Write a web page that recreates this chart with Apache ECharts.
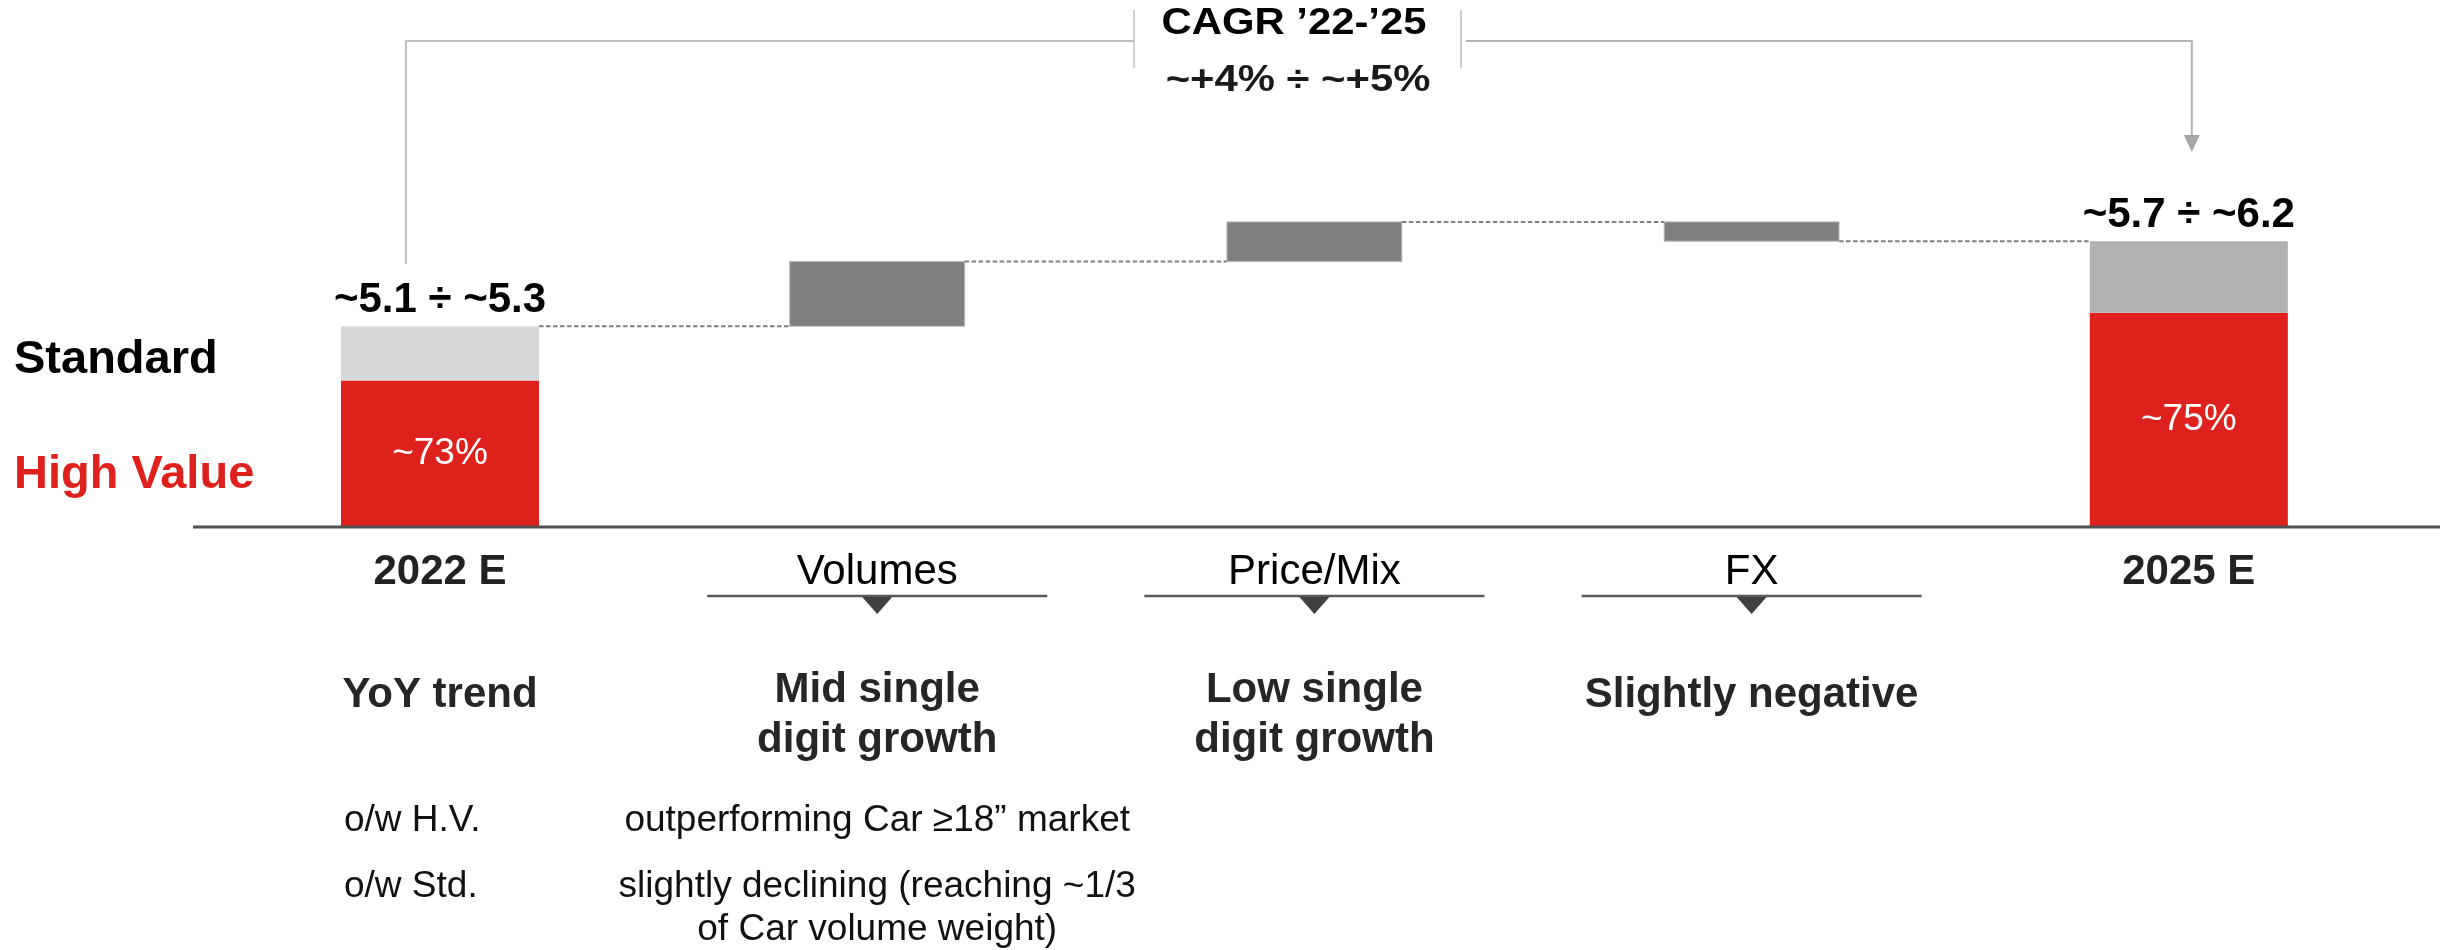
<!DOCTYPE html>
<html>
<head>
<meta charset="utf-8">
<title>Revenue bridge 2022 E – 2025 E</title>
<script src="https://cdn.jsdelivr.net/npm/echarts@6/dist/echarts.min.js"></script>
<style>
  html, body { margin: 0; padding: 0; background: #ffffff; }
  #chart { width: 2450px; height: 950px; }
</style>
</head>
<body>
<div id="chart"></div>
<script>
// ---------------- data ----------------
const categories = ['2022 E', 'Volumes', 'Price/Mix', 'FX', '2025 E'];
const endpointTotals = [5.2, 5.95];                 // midpoints of the stated ranges
const endpointRangeLabels = ['~5.1 ÷ ~5.3', '~5.7 ÷ ~6.2'];
const highValueShare = [0.73, 0.75];                // share of the bar that is High Value
const highValueShareLabels = ['~73%', '~75%'];
const bridgeSteps = [0.57, 0.35, -0.17];            // Volumes, Price/Mix, FX
const cagrTitle = 'CAGR \u201922-\u201925';
const cagrRange = '~+4% ÷ ~+5%';
const seriesNames = ['Standard', 'High Value'];
const yoyTrend = ['YoY trend', 'Mid single\ndigit growth', 'Low single\ndigit growth', 'Slightly negative', ''];
const hvNotes = ['o/w H.V.', 'outperforming Car \u226518\u201d market', '', '', ''];
const stdNotes = ['o/w Std.', 'slightly declining (reaching ~1/3\nof Car volume weight)', '', '', ''];

// ---------------- styling ----------------
const FONT = "'Liberation Sans', Arial, Helvetica, sans-serif";
const RED = '#df211d';
const STD_COLORS = ['#d6d7d9', '#b1b1b1'];
const STEP_COLOR = '#808080';
const Y_FLOOR = 3.43;   // value axis starts here (truncated axis)
const Y_CEIL = 7.9;
const ENDPOINT_FRAC = 0.453;
const STEP_FRAC = 0.40;

const lastIdx = categories.length - 1;
const endpointIdx = [0, lastIdx];
const isEndpoint = i => i === 0 || i === lastIdx;
const widthFrac = i => (isEndpoint(i) ? ENDPOINT_FRAC : STEP_FRAC);

// High Value segment fills its share of the visible bar
const hvTop = endpointTotals.map((t, k) => Y_FLOOR + highValueShare[k] * (t - Y_FLOOR));
const hvData = endpointIdx.map((c, k) => [c, Y_FLOOR, hvTop[k]]);
const stdData = endpointIdx.map((c, k) => [c, hvTop[k], endpointTotals[k]]);

// floating bridge steps and the running level after each bar
let level = endpointTotals[0];
const levels = [level];
const stepData = bridgeSteps.map((d, k) => {
  const lo = Math.min(level, level + d);
  const hi = Math.max(level, level + d);
  level += d;
  levels.push(level);
  return [k + 1, lo, hi];
});
const connectorData = levels.map((v, i) => [i, v]);
const noteData = categories.map((c, i) => [i, Y_FLOOR]);

function rectFor(api, frac) {
  const x = api.value(0);
  const p0 = api.coord([x, api.value(1)]);
  const p1 = api.coord([x, api.value(2)]);
  const w = api.size([1, 0])[0] * frac;
  return { x: p0[0] - w / 2, y: p1[1], width: w, height: p0[1] - p1[1] };
}

const chart = echarts.init(document.getElementById('chart'));

chart.setOption({
  animation: false,
  backgroundColor: '#ffffff',
  grid: { left: 221.4, width: 2186, top: 20, height: 507, containLabel: false, outerBoundsMode: 'none' },
  xAxis: {
    type: 'category',
    data: categories,
    boundaryGap: true,
    axisLine: { show: false },
    axisTick: { show: false },
    axisLabel: {
      interval: 0,
      margin: 24,
      lineHeight: 42,
      formatter: (v, i) => (isEndpoint(i) ? '{b|' + v + '}' : '{n|' + v + '}'),
      rich: {
        b: { fontFamily: FONT, fontSize: 42, fontWeight: 'bold', color: '#222222', lineHeight: 42 },
        n: { fontFamily: FONT, fontSize: 42, fontWeight: 'normal', color: '#000000', lineHeight: 42 }
      }
    }
  },
  yAxis: { type: 'value', min: Y_FLOOR, max: Y_CEIL, show: false, splitLine: { show: false } },
  series: [
    {
      name: seriesNames[1],
      type: 'custom',
      data: hvData,
      encode: { x: 0, y: [1, 2] },
      renderItem: (params, api) => {
        const r = rectFor(api, ENDPOINT_FRAC);
        return {
          type: 'group',
          children: [
            { type: 'rect', shape: r, style: { fill: RED } },
            {
              type: 'text', x: r.x + r.width / 2, y: r.y + r.height / 2,
              style: { text: highValueShareLabels[params.dataIndex], font: '37px ' + FONT,
                       fill: '#ffffff', align: 'center', verticalAlign: 'middle' }
            }
          ]
        };
      }
    },
    {
      name: seriesNames[0],
      type: 'custom',
      data: stdData,
      encode: { x: 0, y: [1, 2] },
      renderItem: (params, api) => {
        const r = rectFor(api, ENDPOINT_FRAC);
        return {
          type: 'group',
          children: [
            { type: 'rect', shape: r, style: { fill: STD_COLORS[params.dataIndex] } },
            {
              type: 'text', x: r.x + r.width / 2, y: r.y - 26,
              style: { text: endpointRangeLabels[params.dataIndex], font: 'bold 42px ' + FONT,
                       fill: '#000000', align: 'center', verticalAlign: 'middle' }
            }
          ]
        };
      }
    },
    {
      name: 'Bridge',
      type: 'custom',
      data: stepData,
      encode: { x: 0, y: [1, 2] },
      renderItem: (params, api) => ({
        type: 'rect',
        shape: rectFor(api, STEP_FRAC),
        style: { fill: STEP_COLOR, stroke: '#b8b8b8', lineWidth: 1 }
      })
    },
    {
      name: 'Connectors',
      type: 'custom',
      data: connectorData.slice(0, lastIdx),
      encode: { x: 0, y: 1 },
      z: 1,
      renderItem: (params, api) => {
        const i = api.value(0);
        const band = api.size([1, 0])[0];
        const a = api.coord([i, api.value(1)]);
        const b = api.coord([i + 1, api.value(1)]);
        return {
          type: 'line',
          shape: { x1: a[0] + band * widthFrac(i) / 2, y1: a[1], x2: b[0] - band * widthFrac(i + 1) / 2, y2: b[1] },
          style: { stroke: '#7f7f7f', lineWidth: 2, lineDash: [4.5, 2.5] }
        };
      }
    },
    {
      name: 'Notes',
      type: 'custom',
      data: noteData,
      encode: { x: 0, y: 1 },
      renderItem: (params, api) => {
        const i = params.dataIndex;
        const p = api.coord([i, Y_FLOOR]);
        const cx = p[0], base = p[1];
        const children = [];
        if (!isEndpoint(i)) {
          children.push({ type: 'line', shape: { x1: cx - 170, y1: base + 69, x2: cx + 170, y2: base + 69 },
                          style: { stroke: '#595959', lineWidth: 2.5 } });
          children.push({ type: 'polygon', shape: { points: [[cx - 15, base + 70], [cx + 15, base + 70], [cx, base + 87]] },
                          style: { fill: '#404040' } });
        }
        if (yoyTrend[i]) {
          const multi = yoyTrend[i].indexOf('\n') >= 0;
          children.push({ type: 'text', x: cx, y: base + (multi ? 138 : 143),
                          style: { text: yoyTrend[i], font: 'bold 42px ' + FONT, lineHeight: 50,
                                   fill: '#262626', align: 'center', verticalAlign: 'top' } });
        }
        const noteX = i === 0 ? cx - 96 : cx;
        const noteAlign = i === 0 ? 'left' : 'center';
        if (hvNotes[i]) {
          children.push({ type: 'text', x: noteX, y: base + 272,
                          style: { text: hvNotes[i], font: '37px ' + FONT, lineHeight: 43,
                                   fill: '#111111', align: noteAlign, verticalAlign: 'top' } });
        }
        if (stdNotes[i]) {
          children.push({ type: 'text', x: noteX, y: base + 338,
                          style: { text: stdNotes[i], font: '37px ' + FONT, lineHeight: 43,
                                   fill: '#111111', align: noteAlign, verticalAlign: 'top' } });
        }
        return { type: 'group', children };
      }
    }
  ]
});

// ---------------- annotations around the plot ----------------
const colX = i => chart.convertToPixel({ xAxisIndex: 0 }, categories[i]);
const baseY = chart.convertToPixel({ yAxisIndex: 0 }, Y_FLOOR);
const x0 = colX(0) - 34;
const x1 = colX(lastIdx) + 3;
const bracketY = 41;
const boxL = 1134, boxR = 1461;
const lineStyle = { stroke: '#bfbfbf', lineWidth: 2, fill: null };

chart.setOption({
  graphic: [
    { type: 'line', z: 10, shape: { x1: 193, y1: baseY, x2: 2440, y2: baseY }, style: { stroke: '#505050', lineWidth: 3 } },
    { type: 'text', x: 14, y: 360, style: { text: seriesNames[0], font: 'bold 47px ' + FONT, fill: '#000000', verticalAlign: 'middle' } },
    { type: 'text', x: 14, y: 475, style: { text: seriesNames[1], font: 'bold 47px ' + FONT, fill: RED, verticalAlign: 'middle' } },
    { type: 'polyline', shape: { points: [[x0, 264], [x0, bracketY], [boxL, bracketY]] }, style: lineStyle },
    { type: 'line', shape: { x1: boxL, y1: 10, x2: boxL, y2: 68 }, style: { stroke: '#bfbfbf', lineWidth: 1.5 } },
    { type: 'line', shape: { x1: boxR, y1: 10, x2: boxR, y2: 68 }, style: { stroke: '#bfbfbf', lineWidth: 1.5 } },
    { type: 'polyline', shape: { points: [[boxR + 5, bracketY], [x1, bracketY], [x1, 137]] }, style: { stroke: '#b4b4b4', lineWidth: 2, fill: null } },
    { type: 'polygon', shape: { points: [[x1 - 8, 135], [x1 + 8, 135], [x1, 152]] }, style: { fill: '#a6a6a6' } },
    { type: 'text', x: 1294, y: 24, scaleX: 1.13, originX: 0,
      style: { text: cagrTitle, font: 'bold 37px ' + FONT, fill: '#000000', align: 'center', verticalAlign: 'middle' } },
    { type: 'text', x: 1298, y: 81, scaleX: 1.13, originX: 0,
      style: { text: cagrRange, font: 'bold 37px ' + FONT, fill: '#1a1a1a', align: 'center', verticalAlign: 'middle' } }
  ]
});
</script>
</body>
</html>
